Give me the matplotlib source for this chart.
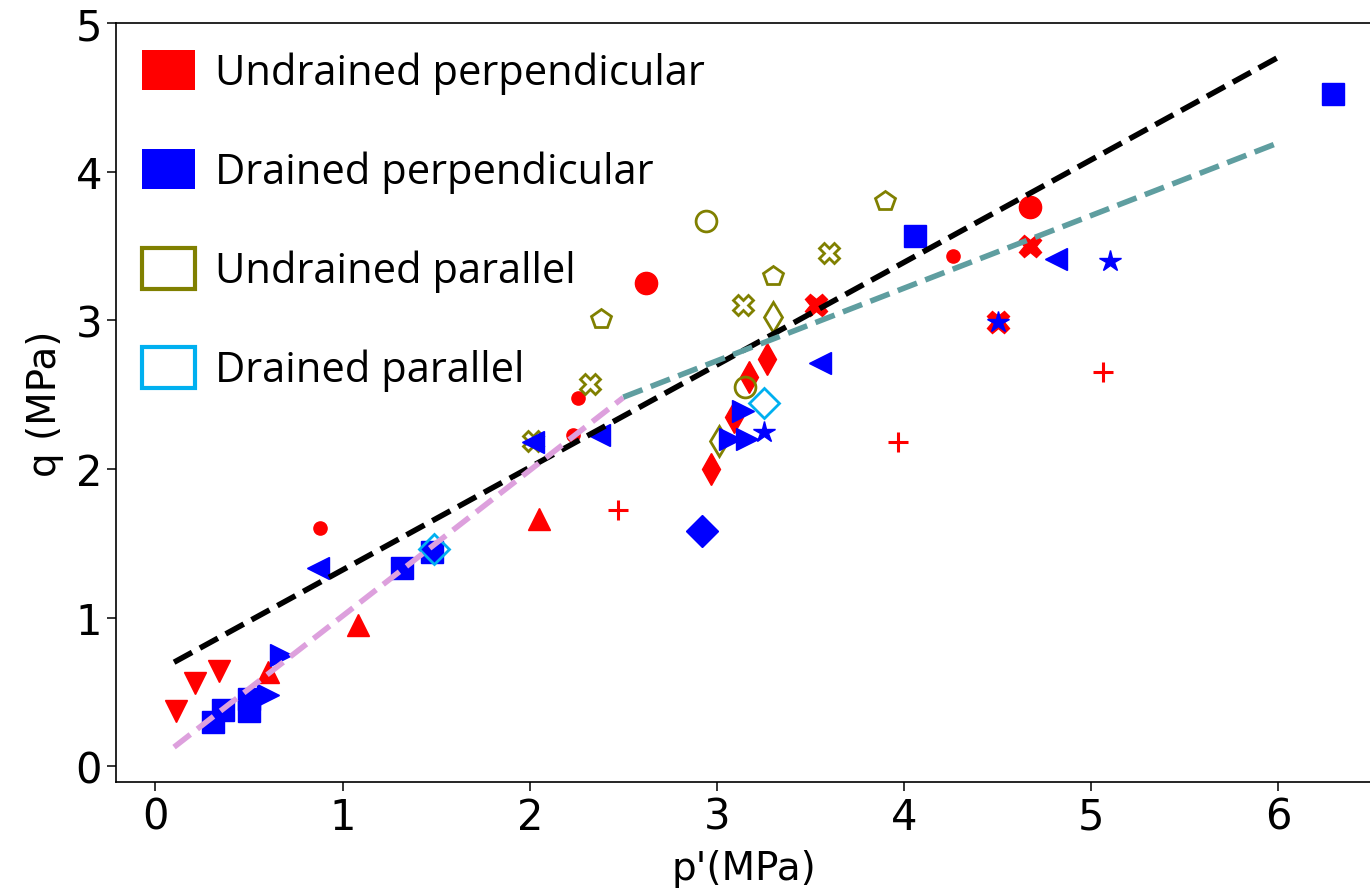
import matplotlib
matplotlib.use('Agg')
from matplotlib import pyplot as plt
from matplotlib.patches import Patch

# undrained, load perpendicular to bedding
up_p = [0.11, 0.21, 0.34, 0.60, 1.08, 2.05, 2.62, 4.67, 0.88, 2.26, 2.23, 4.26,
        3.53, 4.67, 4.50, 2.47, 3.97, 5.06, 2.97, 3.09, 3.17, 3.27]
up_q = [0.37, 0.56, 0.64, 0.63, 0.95, 1.66, 3.25, 3.76, 1.60, 2.48, 2.23, 3.43,
        3.10, 3.50, 2.99, 1.72, 2.18, 2.65, 2.00, 2.35, 2.62, 2.74]
up_m = ['v', 'v', 'v', '^', '^', '^', 'o', 'o', '.', '.', '.', '.',
        'X', 'X', 'X', '+', '+', '+', 'd', 'd', 'd', 'd']

# drained, perpendicular
dp_p = [0.31, 0.36, 0.50, 0.50, 1.32, 1.48, 4.06, 6.29, 2.92,
        0.67, 0.60, 3.14, 3.07, 3.16,
        0.87, 2.02, 2.37, 3.55, 4.81,
        3.25, 5.10, 4.50]
dp_q = [0.30, 0.38, 0.45, 0.37, 1.33, 1.44, 3.57, 4.52, 1.58,
        0.75, 0.48, 2.39, 2.20, 2.20,
        1.33, 2.18, 2.23, 2.71, 3.41,
        2.25, 3.40, 2.99]
dp_m = ['s', 's', 's', 's', 's', 's', 's', 's', 'D',
        '>', '>', '>', '>', '>',
        '<', '<', '<', '<', '<',
        '*', '*', '*']

# undrained, parallel
ua_p = [2.94, 3.15, 2.38, 3.30, 3.90, 3.14, 3.60, 2.32, 2.02, 3.30, 3.01]
ua_q = [3.67, 2.55, 3.01, 3.30, 3.80, 3.10, 3.45, 2.57, 2.19, 3.02, 2.19]
ua_m = ['o', 'o', 'p', 'p', 'p', 'X', 'X', 'X', 'X', 'd', 'd']

# drained, parallel
da_p = [3.25, 1.49]
da_q = [2.44, 1.46]
da_m = ['D', 'D']

# fitted envelopes: (p start, p end, intercept, slope)
env_all = (0.1, 6.0, 0.63, 0.69)
env_low = (0.1, 2.5, 0.03, 0.98)
env_high = (2.5, 6.0, 1.26, 0.489)

labels = ['Undrained perpendicular', 'Drained perpendicular',
          'Undrained parallel', 'Drained parallel']
red = 'red'
blue = 'blue'
olive = 'olive'
sky = '#00b0f0'

fig = plt.figure(figsize=(13.7, 8.95), dpi=100)
ax = fig.add_axes([0.0847, 0.1251, 0.9168, 0.8481])

def scatter(p, q, m, color, hollow=False):
    for x, y, mk in zip(p, q, m):
        if hollow:
            ax.plot(x, y, mk, ms=15, mfc='none', mec=color, mew=2)
        elif mk == '+':
            ax.plot(x, y, mk, ms=15, color=color, mew=2.2)
        elif mk == '.':
            ax.plot(x, y, mk, ms=19, color=color)
        else:
            ax.plot(x, y, mk, ms=16, color=color, mec=color)

scatter(up_p, up_q, up_m, red)
scatter(ua_p, ua_q, ua_m, olive, hollow=True)
scatter(dp_p, dp_q, dp_m, blue)
scatter(da_p, da_q, da_m, sky, hollow=True)

for (p0, p1, a, b), c in zip([env_all, env_low, env_high], ['black', 'plum', 'cadetblue']):
    ax.plot([p0, p1], [a + b * p0, a + b * p1], '--', color=c, lw=4)

ax.set_xlim(-0.21, 6.5)
ax.set_ylim(-0.107, 5.0)
ax.set_xticks(range(7))
ax.set_yticks(range(6))
ax.tick_params(labelsize=30, length=6.5, width=1.1)
for s in ax.spines.values():
    s.set_linewidth(1.2)
ax.set_xlabel("p'(MPa)", fontsize=28, labelpad=8)
ax.set_ylabel('q (MPa)', fontsize=28, labelpad=8)

handles = [
    Patch(facecolor=red, edgecolor=red, lw=0),
    Patch(facecolor=blue, edgecolor=blue, lw=0),
    Patch(facecolor='none', edgecolor=olive, lw=3),
    Patch(facecolor='none', edgecolor=sky, lw=3),
]
ax.legend(handles, labels, loc='upper left', bbox_to_anchor=(0.0207, 0.965),
          frameon=False, prop={'family': 'Open Sans', 'size': 30},
          labelspacing=1.31, handlelength=1.27, handleheight=1.13,
          handletextpad=0.48, borderpad=0, borderaxespad=0)

fig.savefig('out.png', dpi=100)
